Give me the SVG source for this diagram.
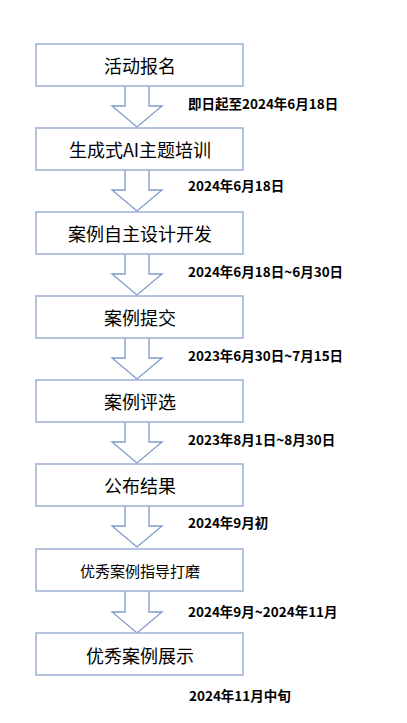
<svg xmlns="http://www.w3.org/2000/svg" width="407" height="723" viewBox="0 0 407 723">
<style>
.box{fill:#fff;stroke:#9db0d3;stroke-width:1.5}
.arr{fill:#fff;stroke:#7f9ac8;stroke-width:1.3;stroke-linejoin:miter}
.t{font-family:"Noto Sans CJK SC","Noto Sans",sans-serif;font-size:18px;fill:#000;text-anchor:middle;dominant-baseline:central}
.ts{font-size:15px}
.l{font-family:"Noto Sans CJK SC","Noto Sans",sans-serif;font-size:13.5px;font-weight:bold;fill:#000;dominant-baseline:central}
</style>
<rect width="407" height="723" fill="#fff"/>
<g id="connectors">
<path class="arr" d="M125,86 V106 H112 L137,127 L162,106 H149 V86"/>
<path class="arr" d="M125,170 V190 H112 L137,211 L162,190 H149 V170"/>
<path class="arr" d="M125,254 V274 H112 L137,295 L162,274 H149 V254"/>
<path class="arr" d="M125,338 V358 H112 L137,379 L162,358 H149 V338"/>
<path class="arr" d="M125,422 V442 H112 L137,463 L162,442 H149 V422"/>
<path class="arr" d="M125,506 V526 H112 L137,547 L162,526 H149 V506"/>
<path class="arr" d="M125,591 V612 H112 L137,633 L162,612 H149 V591"/>
</g>
<g id="n1"><rect class="box" x="36" y="44" width="207" height="42"/><text class="t" x="140" y="65">活动报名</text></g>
<g id="n2"><rect class="box" x="36" y="128" width="207" height="42"/><text class="t" x="140" y="149">生成式AI主题培训</text></g>
<g id="n3"><rect class="box" x="36" y="212" width="207" height="42"/><text class="t" x="140" y="233">案例自主设计开发</text></g>
<g id="n4"><rect class="box" x="36" y="296" width="207" height="42"/><text class="t" x="140" y="317">案例提交</text></g>
<g id="n5"><rect class="box" x="36" y="380" width="207" height="42"/><text class="t" x="140" y="401">案例评选</text></g>
<g id="n6"><rect class="box" x="36" y="464" width="207" height="42"/><text class="t" x="140" y="485">公布结果</text></g>
<g id="n7"><rect class="box" x="36" y="549" width="207" height="42"/><text class="t ts" x="140" y="570">优秀案例指导打磨</text></g>
<g id="n8"><rect class="box" x="36" y="633" width="207" height="42"/><text class="t" x="140" y="655">优秀案例展示</text></g>
<g id="labels">
<text class="l" x="188" y="103">即日起至2024年6月18日</text>
<text class="l" x="188" y="185">2024年6月18日</text>
<text class="l" x="188" y="271">2024年6月18日~6月30日</text>
<text class="l" x="188" y="355">2023年6月30日~7月15日</text>
<text class="l" x="188" y="439">2023年8月1日~8月30日</text>
<text class="l" x="188" y="522">2024年9月初</text>
<text class="l" x="188" y="611">2024年9月~2024年11月</text>
<text class="l" x="189" y="695">2024年11月中旬</text>
</g>
</svg>
